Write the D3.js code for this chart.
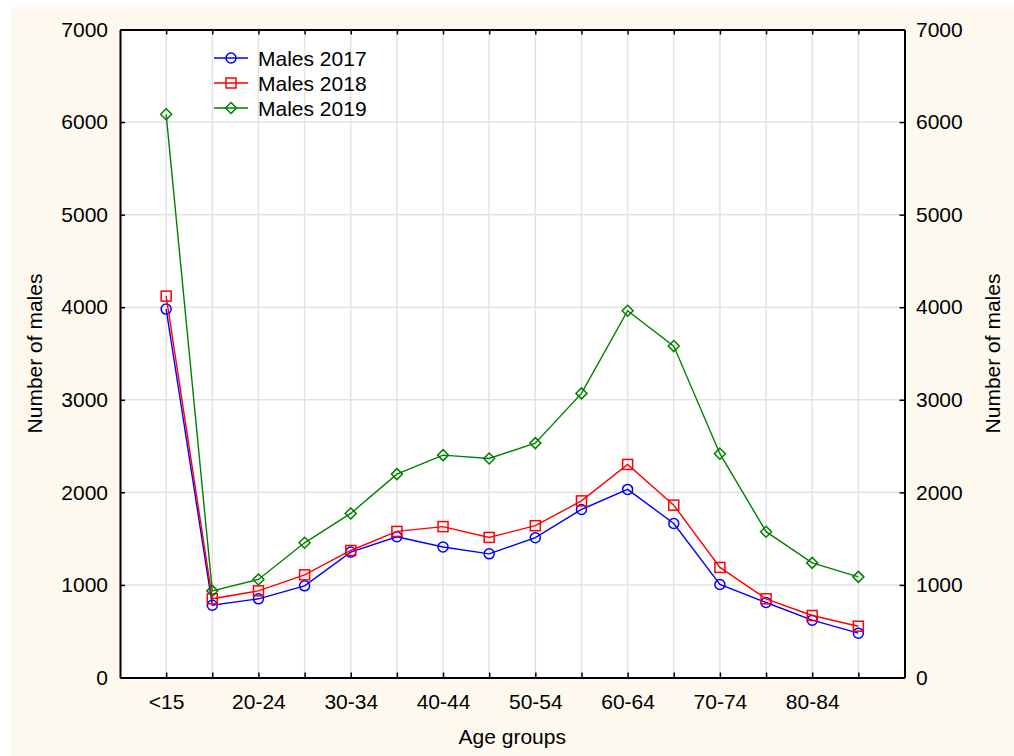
<!DOCTYPE html>
<html><head><meta charset="utf-8">
<script src="https://cdn.jsdelivr.net/npm/d3@7/dist/d3.min.js"></script>
<style>body{margin:0;background:#fff;}svg{display:block;}</style>
</head><body>
<svg id="c" width="1014" height="756"></svg>
<script>
const categories = ["<15","15-19","20-24","25-29","30-34","35-39","40-44","45-49","50-54","55-59","60-64","65-69","70-74","75-79","80-84","85+"];
const males2017 = [3980, 780, 850, 990, 1355, 1520, 1410, 1336, 1510, 1815, 2032, 1664, 1005, 810, 619, 479];
const males2018 = [4120, 850, 936, 1109, 1372, 1578, 1630, 1513, 1640, 1908, 2302, 1862, 1189, 850, 670, 554];
const males2019 = [6084, 936, 1059, 1455, 1772, 2197, 2402, 2366, 2532, 3069, 3962, 3580, 2418, 1575, 1238, 1087];
const seriesNames = ["Males 2017","Males 2018","Males 2019"];
const yTicks = [0,1000,2000,3000,4000,5000,6000,7000];
const xLabelShown = ["<15","20-24","30-34","40-44","50-54","60-64","70-74","80-84"];

const svg = d3.select("#c");
const L=120, R=904.5, T=29.5, B=677.5;
const font = "Liberation Sans, Arial, sans-serif";
const fs = 21;

svg.append("rect").attr("x",11).attr("y",7).attr("width",1003).attr("height",749).attr("fill","#fdf9ef");
svg.append("rect").attr("x",L).attr("y",T).attr("width",R-L).attr("height",B-T).attr("fill","#fff");

const x = d3.scaleLinear().domain([-1,16]).range([L,R]);
const y = d3.scaleLinear().domain([0,7000]).range([B,T]);

// grid
const g = svg.append("g");
g.selectAll(".hg").data(yTicks.slice(1,-1)).join("line")
 .attr("x1",L).attr("x2",R).attr("y1",d=>y(d)).attr("y2",d=>y(d))
 .attr("stroke","#e3e3e3").attr("stroke-width",1.5);
g.selectAll(".vg").data(categories).join("line")
 .attr("x1",(d,i)=>x(i)).attr("x2",(d,i)=>x(i)).attr("y1",T).attr("y2",B)
 .attr("stroke","#e3e3e3").attr("stroke-width",1.5);

// axes
const tickLen = 5;
const axL = d3.axisLeft(y).tickValues(yTicks).tickSize(-tickLen).tickSizeOuter(0).tickPadding(12).tickFormat(d3.format("d"));
const axR = d3.axisRight(y).tickValues(yTicks).tickSize(-tickLen).tickSizeOuter(0).tickPadding(11.5).tickFormat(d3.format("d"));
const axB = d3.axisBottom(x).tickValues(d3.range(categories.length)).tickSize(-tickLen).tickSizeOuter(0).tickPadding(17)
  .tickFormat(i=>xLabelShown.includes(categories[i])?categories[i]:"");
const axT = d3.axisTop(x).tickValues(d3.range(categories.length)).tickSize(-tickLen).tickSizeOuter(0).tickFormat("");

function style(sel){
  sel.selectAll("path").attr("stroke","#000").attr("stroke-width",2);
  sel.selectAll("line").attr("stroke","#000").attr("stroke-width",1.5);
  sel.selectAll("text").attr("font-family",font).attr("font-size",fs).attr("fill","#000");
}
svg.append("g").attr("transform",`translate(${L},0)`).call(axL).call(style);
svg.append("g").attr("transform",`translate(${R},0)`).call(axR).call(style);
svg.append("g").attr("transform",`translate(0,${B})`).call(axB).call(style);
svg.append("g").attr("transform",`translate(0,${T})`).call(axT).call(style);

// titles
svg.append("text").attr("x",(L+R)/2).attr("y",744).attr("text-anchor","middle")
 .attr("font-family",font).attr("font-size",fs).attr("fill","#000").text("Age groups");
svg.append("text").attr("transform",`translate(42,${(T+B)/2}) rotate(-90)`).attr("text-anchor","middle")
 .attr("font-family",font).attr("font-size",fs).attr("fill","#000").text("Number of males");
svg.append("text").attr("transform",`translate(1000,${(T+B)/2}) rotate(-90)`).attr("text-anchor","middle")
 .attr("font-family",font).attr("font-size",fs).attr("fill","#000").text("Number of males");

// series
const series = [
 {name:seriesNames[0], values:males2017, color:"#0000ff", sym:"circle"},
 {name:seriesNames[1], values:males2018, color:"#ff0000", sym:"square"},
 {name:seriesNames[2], values:males2019, color:"#008000", sym:"diamond"}
];
function marker(sel, s){
  if(s.sym==="circle") sel.append("circle").attr("r",5).attr("fill","none").attr("stroke",s.color).attr("stroke-width",1.5);
  else if(s.sym==="square") sel.append("rect").attr("x",-5).attr("y",-5).attr("width",10).attr("height",10).attr("fill","none").attr("stroke",s.color).attr("stroke-width",1.5);
  else sel.append("path").attr("d","M0,-5.5L5.5,0L0,5.5L-5.5,0Z").attr("fill","none").attr("stroke",s.color).attr("stroke-width",1.5);
}
const line = d3.line().x((d,i)=>x(i)).y(d=>y(d));
series.forEach(s=>{
  svg.append("path").attr("d",line(s.values)).attr("fill","none").attr("stroke",s.color).attr("stroke-width",1.4);
  s.values.forEach((v,i)=>{
    const m = svg.append("g").attr("transform",`translate(${x(i)},${y(v)})`);
    marker(m,s);
  });
});

// legend
series.forEach((s,k)=>{
  const ly = 58 + k*25;
  svg.append("line").attr("x1",214).attr("x2",248).attr("y1",ly).attr("y2",ly).attr("stroke",s.color).attr("stroke-width",1.4);
  const m = svg.append("g").attr("transform",`translate(231,${ly})`);
  marker(m,s);
  svg.append("text").attr("x",258).attr("y",ly+7.5).attr("font-family",font).attr("font-size",fs).attr("fill","#000").text(s.name);
});
</script>
</body></html>
